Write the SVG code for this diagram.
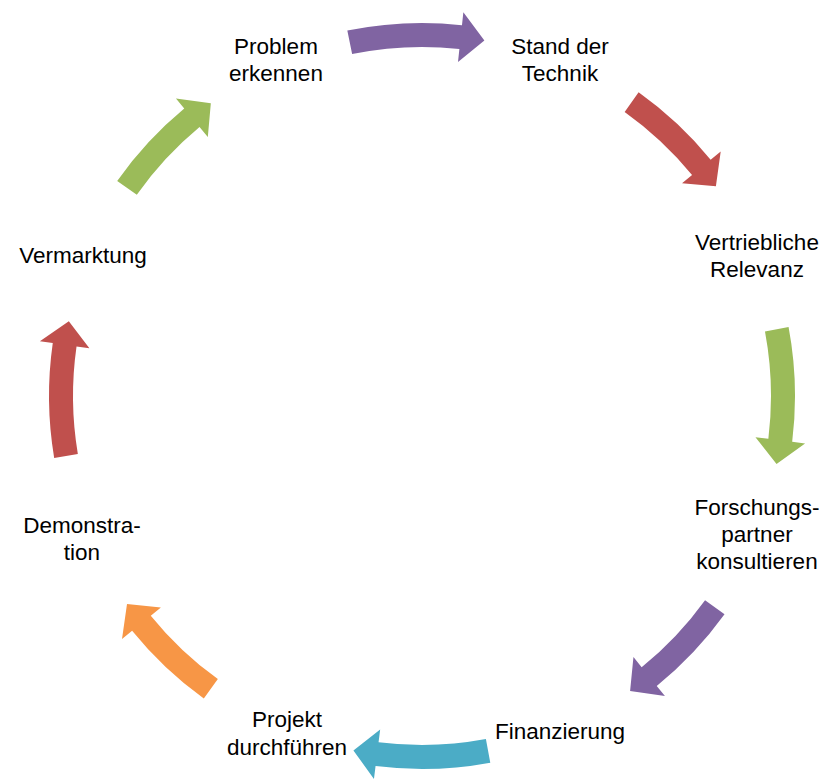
<svg xmlns="http://www.w3.org/2000/svg" width="827" height="783" viewBox="0 0 827 783">
<style>
  text { font-family: "Liberation Sans", Arial, sans-serif; font-size: 22.5px; fill: #000; text-anchor: middle; }
  .purple { fill: #8064A2; }
  .red { fill: #C0504D; }
  .green { fill: #9BBB59; }
  .teal { fill: #4BACC6; }
  .orange { fill: #F79646; }
</style>
<defs>
  <path id="arrowA" d="M -69.57 -366.45 A 373 373 0 0 1 45.14 -370.26 L 46.71 -383.16 L 67.33 -354.66 L 40.66 -333.53 L 42.23 -346.43 A 349 349 0 0 0 -65.10 -342.87 Z"/>
  <path id="arrowB" d="M -61.56 -367.89 A 373 373 0 0 1 37.05 -371.16 L 38.34 -384.09 L 59.58 -356.05 L 33.37 -334.34 L 34.66 -347.28 A 349 349 0 0 0 -57.60 -344.21 Z"/>
</defs>
<rect width="827" height="783" fill="#fff"/>
<g id="connectors" transform="translate(422,396)">
  <use href="#arrowA" class="purple" transform="rotate(-0.8)"/>
  <use href="#arrowB" class="red" transform="rotate(45)"/>
  <use href="#arrowA" class="green" transform="rotate(90.1)"/>
  <use href="#arrowB" class="purple" transform="rotate(135.3)"/>
  <use href="#arrowA" class="teal" transform="rotate(180.2)"/>
  <use href="#arrowB" class="orange" transform="rotate(225.3)"/>
  <use href="#arrowA" class="red" transform="rotate(271.2)"/>
  <use href="#arrowB" class="green" transform="rotate(314.7)"/>
</g>
<g id="node-problem"><text x="276" y="54">Problem</text><text x="276" y="81">erkennen</text></g>
<g id="node-stand"><text x="560" y="54">Stand der</text><text x="560" y="81">Technik</text></g>
<g id="node-vertrieb"><text x="757" y="250">Vertriebliche</text><text x="757" y="277">Relevanz</text></g>
<g id="node-forschung"><text x="757" y="515">Forschungs-</text><text x="757" y="542">partner</text><text x="757" y="569">konsultieren</text></g>
<g id="node-finanzierung"><text x="560" y="739">Finanzierung</text></g>
<g id="node-projekt"><text x="287" y="727">Projekt</text><text x="287" y="755">durchführen</text></g>
<g id="node-demonstration"><text x="82" y="533">Demonstra-</text><text x="82" y="560">tion</text></g>
<g id="node-vermarktung"><text x="83" y="263">Vermarktung</text></g>
</svg>
